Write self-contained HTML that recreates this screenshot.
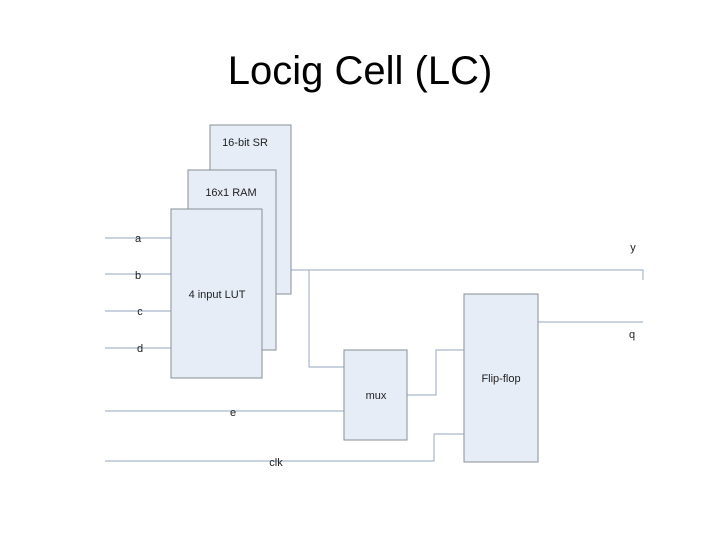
<!DOCTYPE html>
<html><head><style>
body{margin:0;background:#fff;width:720px;height:540px;overflow:hidden}
</style></head><body>
<svg width="720" height="540" xmlns="http://www.w3.org/2000/svg" font-family="Liberation Sans, sans-serif">
<text x="360" y="84" font-size="40" text-anchor="middle" fill="#000">Locig Cell (LC)</text>
<g stroke="#a9b8cc" stroke-width="1.2" fill="none">
<line x1="105" y1="238" x2="171" y2="238"/>
<line x1="105" y1="274" x2="171" y2="274"/>
<line x1="105" y1="311" x2="171" y2="311"/>
<line x1="105" y1="348" x2="171" y2="348"/>
<polyline points="262,270 643,270 643,280"/>
<polyline points="309,270 309,367 344,367"/>
<line x1="105" y1="411" x2="344" y2="411"/>
<polyline points="407,395 436,395 436,350 464,350"/>
<polyline points="105,461 434,461 434,434 464,434"/>
<line x1="538" y1="322" x2="643" y2="322"/>
</g>
<g fill="#e7edf6" stroke="#8a8f96" stroke-width="1">
<rect x="210" y="125" width="81" height="169"/>
<rect x="188" y="170" width="88" height="180"/>
<rect x="171" y="209" width="91" height="169"/>
<rect x="344" y="350" width="63" height="90"/>
<rect x="464" y="294" width="74" height="168"/>
</g>
<g font-size="11" fill="#222" text-anchor="middle">
<text x="245" y="146">16-bit SR</text>
<text x="231" y="196">16x1 RAM</text>
<text x="217" y="298">4 input LUT</text>
<text x="376" y="399">mux</text>
<text x="501" y="382">Flip-flop</text>
<text x="138" y="242">a</text>
<text x="138" y="279">b</text>
<text x="140" y="315">c</text>
<text x="140" y="352">d</text>
<text x="233" y="416">e</text>
<text x="276" y="466">clk</text>
<text x="633" y="251">y</text>
<text x="632" y="338">q</text>
</g>
</svg>
</body></html>
